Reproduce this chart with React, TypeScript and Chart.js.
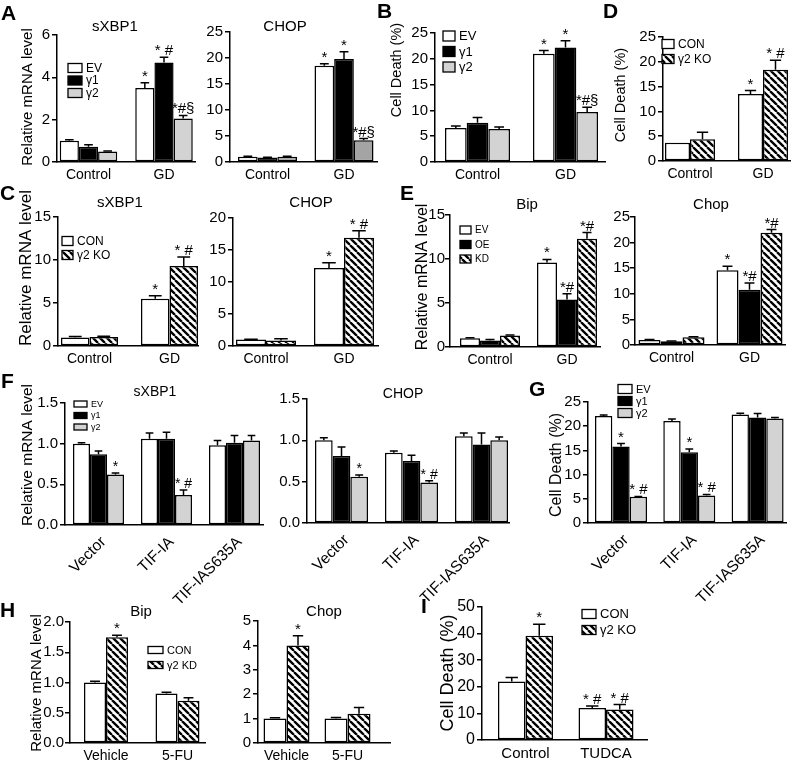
import React, { useEffect, useRef } from "react";
import { Chart, registerables } from "chart.js";
Chart.register(...registerables);

const FONT = "'Liberation Sans', Arial, Helvetica, sans-serif";
const W = 800;
const H = 760;

// ---------- categories ----------
const catsGD = ["Control", "GD"];
const catsTIF = ["Vector", "TIF-IA", "TIF-IAS635A"];
const catsFU = ["Vehicle", "5-FU"];
const catsTUDCA = ["Control", "TUDCA"];

// ---------- A: sXBP1 ----------
const aXbpEV = [1.0, 3.5];
const aXbpEVErr = [0.05, 0.25];
const aXbpG1 = [0.72, 4.7];
const aXbpG1Err = [0.1, 0.25];
const aXbpG2 = [0.5, 2.05];
const aXbpG2Err = [0.02, 0.15];
const aXbpSigEV = ["", "*"];
const aXbpSigG1 = ["", "* #"];
const aXbpSigG2 = ["", "*#§"];
// ---------- A: CHOP ----------
const aChopEV = [1.0, 18.5];
const aChopEVErr = [0.1, 0.4];
const aChopG1 = [0.85, 19.8];
const aChopG1Err = [0.08, 1.4];
const aChopG2 = [1.0, 4.2];
const aChopG2Err = [0.1, 0.3];
const aChopSigEV = ["", "*"];
const aChopSigG1 = ["", "*"];
const aChopSigG2 = ["", "*#§"];
// ---------- B ----------
const bEV = [6.6, 21.0];
const bEVErr = [0.4, 0.6];
const bG1 = [7.6, 22.2];
const bG1Err = [1.0, 1.3];
const bG2 = [6.4, 9.7];
const bG2Err = [0.4, 0.9];
const bSigEV = ["", "*"];
const bSigG1 = ["", "*"];
const bSigG2 = ["", "*#§"];
// ---------- D ----------
const dCON = [3.7, 13.5];
const dCONErr = [0, 0.7];
const dKO = [4.4, 18.4];
const dKOErr = [1.4, 1.9];
const dSigCON = ["", "*"];
const dSigKO = ["", "* #"];
// ---------- C ----------
const cXbpCON = [1.0, 5.5];
const cXbpCONErr = [0.1, 0.35];
const cXbpKO = [1.05, 9.3];
const cXbpKOErr = [0.08, 1.05];
const cChopCON = [1.0, 12.2];
const cChopCONErr = [0.05, 0.8];
const cChopKO = [0.85, 16.9];
const cChopKOErr = [0.3, 1.1];
const cSigCON = ["", "*"];
const cSigKO = ["", "* #"];
// ---------- E ----------
const eBipEV = [1.0, 9.6];
const eBipEVErr = [0.05, 0.35];
const eBipOE = [0.75, 5.4];
const eBipOEErr = [0.1, 0.65];
const eBipKD = [1.3, 12.3];
const eBipKDErr = [0.05, 0.7];
const eChopEV = [1.0, 14.6];
const eChopEVErr = [0.05, 0.8];
const eChopOE = [0.75, 10.8];
const eChopOEErr = [0.05, 1.3];
const eChopKD = [1.5, 21.9];
const eChopKDErr = [0.1, 0.65];
const eSigEV = ["", "*"];
const eSigOE = ["", "*#"];
const eSigKD = ["", "*#"];
// ---------- F ----------
const fXbpEV = [1.0, 1.06, 0.98];
const fXbpEVErr = [0.01, 0.07, 0.06];
const fXbpG1 = [0.87, 1.06, 1.01];
const fXbpG1Err = [0.04, 0.08, 0.09];
const fXbpG2 = [0.62, 0.37, 1.04];
const fXbpG2Err = [0.02, 0.06, 0.06];
const fChopEV = [1.0, 0.85, 1.05];
const fChopEVErr = [0.03, 0.02, 0.04];
const fChopG1 = [0.81, 0.75, 0.95];
const fChopG1Err = [0.11, 0.07, 0.14];
const fChopG2 = [0.56, 0.49, 1.0];
const fChopG2Err = [0.02, 0.02, 0.04];
const fSigG2 = ["*", "* #", ""];
// ---------- G ----------
const gEV = [22.1, 21.1, 22.4];
const gEVErr = [0.2, 0.4, 0.3];
const gG1 = [15.8, 14.6, 21.8];
const gG1Err = [0.6, 0.7, 0.8];
const gG2 = [5.4, 5.7, 21.6];
const gG2Err = [0.1, 0.2, 0.2];
const gSigG1 = ["*", "*", ""];
const gSigG2 = ["* #", "* #", ""];
// ---------- H ----------
const hBipCON = [1.0, 0.82];
const hBipCONErr = [0.02, 0.02];
const hBipKD = [1.75, 0.7];
const hBipKDErr = [0.03, 0.05];
const hChopCON = [1.0, 1.0];
const hChopCONErr = [0.03, 0.05];
const hChopKD = [4.0, 1.2];
const hChopKDErr = [0.4, 0.25];
const hSigKD = ["*", ""];
// ---------- I ----------
const iCON = [22.0, 12.0];
const iCONErr = [1.5, 0.8];
const iKO = [39.2, 11.5];
const iKOErr = [4.3, 1.8];
const iSigCON = ["", "* #"];
const iSigKO = ["*", "* #"];

type Series = { label: string; data: number[]; err: number[]; sig?: string[]; fill: string };
type Spec = {
  left: number; right: number; top: number; bottom: number;
  c0: number; step: number; groupW: number;
  yMax: number; yStep: number; dec: number;
  cats: string[]; series: Series[];
  rotate?: boolean; tickSize: number; xSize: number; sigSize?: number; yPad?: number;
  title?: { text: string; x: number; y: number; size: number };
  ylabel?: { text: string; x: number; y: number; size: number };
  legend?: { x: number; y: number; gap: number; w: number; h: number; size: number };
};

const WHITE = "#ffffff";
const BLACK = "#000000";
const GRAY = "#d3d3d3";
const DARK = "#a4a4a4";
const HATCH = "hatch";

const specs: Spec[] = [
  // A sXBP1
  {
    left: 57, right: 195, top: 35, bottom: 162, c0: 88.5, step: 75.5, groupW: 57.5,
    yMax: 6, yStep: 2, dec: 0, cats: catsGD, tickSize: 15, xSize: 14,
    series: [
      { label: "EV", data: aXbpEV, err: aXbpEVErr, sig: aXbpSigEV, fill: WHITE },
      { label: "γ1", data: aXbpG1, err: aXbpG1Err, sig: aXbpSigG1, fill: BLACK },
      { label: "γ2", data: aXbpG2, err: aXbpG2Err, sig: aXbpSigG2, fill: GRAY },
    ],
    title: { text: "sXBP1", x: 115, y: 27, size: 15 },
    ylabel: { text: "Relative mRNA level", x: 28, y: 97, size: 15 },
    legend: { x: 68, y: 68, gap: 12.5, w: 14, h: 9, size: 12 },
  },
  // A CHOP
  {
    left: 230, right: 377, top: 32, bottom: 162, c0: 267.5, step: 76.5, groupW: 59,
    yMax: 25, yStep: 5, dec: 0, cats: catsGD, tickSize: 15, xSize: 14,
    series: [
      { label: "EV", data: aChopEV, err: aChopEVErr, sig: aChopSigEV, fill: WHITE },
      { label: "γ1", data: aChopG1, err: aChopG1Err, sig: aChopSigG1, fill: BLACK },
      { label: "γ2", data: aChopG2, err: aChopG2Err, sig: aChopSigG2, fill: DARK },
    ],
    title: { text: "CHOP", x: 285, y: 27, size: 15 },
  },
  // B
  {
    left: 435, right: 605, top: 33, bottom: 162, c0: 477.5, step: 88, groupW: 65,
    yMax: 25, yStep: 5, dec: 0, cats: catsGD, tickSize: 15, xSize: 14,
    series: [
      { label: "EV", data: bEV, err: bEVErr, sig: bSigEV, fill: WHITE },
      { label: "γ1", data: bG1, err: bG1Err, sig: bSigG1, fill: BLACK },
      { label: "γ2", data: bG2, err: bG2Err, sig: bSigG2, fill: GRAY },
    ],
    ylabel: { text: "Cell Death (%)", x: 397, y: 70, size: 14.5 },
    legend: { x: 443, y: 36, gap: 15.5, w: 12, h: 10, size: 13 },
  },
  // D
  {
    left: 663, right: 790, top: 37, bottom: 161, c0: 690, step: 73, groupW: 50,
    yMax: 25, yStep: 5, dec: 0, cats: catsGD, tickSize: 15, xSize: 14,
    series: [
      { label: "CON", data: dCON, err: dCONErr, sig: dSigCON, fill: WHITE },
      { label: "γ2 KO", data: dKO, err: dKOErr, sig: dSigKO, fill: HATCH },
    ],
    ylabel: { text: "Cell Death (%)", x: 621, y: 95, size: 14.5 },
    legend: { x: 662, y: 44, gap: 15, w: 12, h: 9, size: 12 },
  },
  // C sXBP1
  {
    left: 58, right: 198, top: 217, bottom: 346, c0: 89.5, step: 80, groupW: 57,
    yMax: 15, yStep: 5, dec: 0, cats: catsGD, tickSize: 15, xSize: 14,
    series: [
      { label: "CON", data: cXbpCON, err: cXbpCONErr, sig: cSigCON, fill: WHITE },
      { label: "γ2 KO", data: cXbpKO, err: cXbpKOErr, sig: cSigKO, fill: HATCH },
    ],
    title: { text: "sXBP1", x: 120, y: 203, size: 15 },
    ylabel: { text: "Relative mRNA level", x: 26, y: 268, size: 17 },
    legend: { x: 62, y: 241, gap: 14, w: 11, h: 9, size: 12 },
  },
  // C CHOP
  {
    left: 233, right: 378, top: 218, bottom: 346, c0: 266, step: 78, groupW: 60,
    yMax: 20, yStep: 5, dec: 0, cats: catsGD, tickSize: 15, xSize: 14,
    series: [
      { label: "CON", data: cChopCON, err: cChopCONErr, sig: cSigCON, fill: WHITE },
      { label: "γ2 KO", data: cChopKO, err: cChopKOErr, sig: cSigKO, fill: HATCH },
    ],
    title: { text: "CHOP", x: 311, y: 203, size: 15 },
  },
  // E Bip
  {
    left: 450, right: 600, top: 215, bottom: 347, c0: 490, step: 77, groupW: 60,
    yMax: 15, yStep: 5, dec: 0, cats: catsGD, tickSize: 15, xSize: 14, yPad: 0,
    series: [
      { label: "EV", data: eBipEV, err: eBipEVErr, sig: eSigEV, fill: WHITE },
      { label: "OE", data: eBipOE, err: eBipOEErr, sig: eSigOE, fill: BLACK },
      { label: "KD", data: eBipKD, err: eBipKDErr, sig: eSigKD, fill: HATCH },
    ],
    title: { text: "Bip", x: 527, y: 205, size: 15 },
    ylabel: { text: "Relative mRNA level", x: 423, y: 277, size: 16 },
    legend: { x: 460, y: 230, gap: 14.5, w: 11, h: 8, size: 10 },
  },
  // E Chop
  {
    left: 635, right: 785, top: 217, bottom: 345, c0: 671.5, step: 78, groupW: 66,
    yMax: 25, yStep: 5, dec: 0, cats: catsGD, tickSize: 15, xSize: 14, yPad: 0,
    series: [
      { label: "EV", data: eChopEV, err: eChopEVErr, sig: eSigEV, fill: WHITE },
      { label: "OE", data: eChopOE, err: eChopOEErr, sig: eSigOE, fill: BLACK },
      { label: "KD", data: eChopKD, err: eChopKDErr, sig: eSigKD, fill: HATCH },
    ],
    title: { text: "Chop", x: 711, y: 205, size: 15 },
  },
  // F sXBP1
  {
    left: 65, right: 263, top: 403, bottom: 525, c0: 98.5, step: 68, groupW: 51,
    yMax: 1.5, yStep: 0.5, dec: 1, cats: catsTIF, tickSize: 15, xSize: 15.5, rotate: true, sigSize: 14,
    series: [
      { label: "EV", data: fXbpEV, err: fXbpEVErr, fill: WHITE },
      { label: "γ1", data: fXbpG1, err: fXbpG1Err, fill: BLACK },
      { label: "γ2", data: fXbpG2, err: fXbpG2Err, sig: fSigG2, fill: GRAY },
    ],
    title: { text: "sXBP1", x: 155, y: 392, size: 14 },
    ylabel: { text: "Relative mRNA level", x: 28, y: 455, size: 15.5 },
    legend: { x: 74, y: 404, gap: 11.5, w: 13, h: 6, size: 9 },
  },
  // F CHOP
  {
    left: 307, right: 509, top: 399, bottom: 523, c0: 341.5, step: 70, groupW: 53,
    yMax: 1.5, yStep: 0.5, dec: 1, cats: catsTIF, tickSize: 15, xSize: 15.5, rotate: true, sigSize: 14,
    series: [
      { label: "EV", data: fChopEV, err: fChopEVErr, fill: WHITE },
      { label: "γ1", data: fChopG1, err: fChopG1Err, fill: BLACK },
      { label: "γ2", data: fChopG2, err: fChopG2Err, sig: fSigG2, fill: GRAY },
    ],
    title: { text: "CHOP", x: 403, y: 394, size: 14 },
  },
  // G
  {
    left: 588, right: 786, top: 402, bottom: 523, c0: 621, step: 68.3, groupW: 52,
    yMax: 25, yStep: 5, dec: 0, cats: catsTIF, tickSize: 15, xSize: 15.5, rotate: true,
    series: [
      { label: "EV", data: gEV, err: gEVErr, fill: WHITE },
      { label: "γ1", data: gG1, err: gG1Err, sig: gSigG1, fill: BLACK },
      { label: "γ2", data: gG2, err: gG2Err, sig: gSigG2, fill: GRAY },
    ],
    ylabel: { text: "Cell Death (%)", x: 557, y: 465, size: 16 },
    legend: { x: 618, y: 389, gap: 12, w: 14, h: 9, size: 11 },
  },
  // H Bip
  {
    left: 70, right: 205, top: 622, bottom: 743, c0: 106, step: 71.5, groupW: 44,
    yMax: 2, yStep: 0.5, dec: 1, cats: catsFU, tickSize: 15, xSize: 14, yPad: 1,
    series: [
      { label: "CON", data: hBipCON, err: hBipCONErr, fill: WHITE },
      { label: "γ2 KD", data: hBipKD, err: hBipKDErr, sig: hSigKD, fill: HATCH },
    ],
    title: { text: "Bip", x: 141, y: 612, size: 15 },
    ylabel: { text: "Relative mRNA level", x: 37, y: 683, size: 15 },
    legend: { x: 148, y: 650, gap: 15, w: 15, h: 7, size: 11 },
  },
  // H Chop
  {
    left: 258, right: 390, top: 621, bottom: 743, c0: 286.5, step: 61, groupW: 46,
    yMax: 5, yStep: 1, dec: 0, cats: catsFU, tickSize: 15, xSize: 14,
    series: [
      { label: "CON", data: hChopCON, err: hChopCONErr, fill: WHITE },
      { label: "γ2 KD", data: hChopKD, err: hChopKDErr, sig: hSigKD, fill: HATCH },
    ],
    title: { text: "Chop", x: 324, y: 612, size: 15 },
  },
  // I
  {
    left: 482, right: 647, top: 607, bottom: 740, c0: 525.5, step: 80.5, groupW: 55,
    yMax: 50, yStep: 10, dec: 0, cats: catsTUDCA, tickSize: 16, xSize: 15,
    series: [
      { label: "CON", data: iCON, err: iCONErr, sig: iSigCON, fill: WHITE },
      { label: "γ2 KO", data: iKO, err: iKOErr, sig: iSigKO, fill: HATCH },
    ],
    ylabel: { text: "Cell Death (%)", x: 448, y: 673, size: 18 },
    legend: { x: 582, y: 614, gap: 16, w: 14, h: 9, size: 13 },
  },
];

const letters = [
  { t: "A", x: 1, y: 2 },
  { t: "B", x: 377, y: 0 },
  { t: "D", x: 603, y: 0 },
  { t: "C", x: 0, y: 182 },
  { t: "E", x: 400, y: 182 },
  { t: "F", x: 1, y: 370 },
  { t: "G", x: 529, y: 378 },
  { t: "H", x: 0, y: 599 },
  { t: "I", x: 421, y: 595 },
];

function makeHatch(): CanvasPattern {
  const s = 7;
  const c = document.createElement("canvas");
  c.width = s;
  c.height = s;
  const g = c.getContext("2d")!;
  g.fillStyle = "#fff";
  g.fillRect(0, 0, s, s);
  g.strokeStyle = "#000";
  g.lineWidth = 2.3;
  g.beginPath();
  for (const k of [-s, 0, s]) {
    g.moveTo(k, 0);
    g.lineTo(k + s, s);
  }
  g.stroke();
  return g.createPattern(c, "repeat")!;
}

function BarPanel({ spec }: { spec: Spec }) {
  const ref = useRef<HTMLCanvasElement>(null);
  useEffect(() => {
    const canvas = ref.current!;
    const pat = makeHatch();
    const fillOf = (f: string): any => (f === HATCH ? pat : f);
    const Y_W = 40;
    const X_H = 80;
    const minX = -(spec.c0 - spec.left) / spec.step;
    const maxX = minX + (spec.right - spec.left) / spec.step;
    const rot = spec.rotate ? 45 : 0;

    const decor = {
      id: "decor",
      afterDraw(chart: any) {
        const ctx: CanvasRenderingContext2D = chart.ctx;
        const yS = chart.scales.y;
        ctx.save();
        ctx.strokeStyle = "#000";
        ctx.fillStyle = "#000";
        ctx.lineWidth = 1.5;
        spec.series.forEach((s, di) => {
          const meta = chart.getDatasetMeta(di);
          meta.data.forEach((bar: any, j: number) => {
            const e = s.err[j] || 0;
            const yE = yS.getPixelForValue(s.data[j] + e);
            const yB = bar.y;
            const capW = bar.width * 0.45;
            if (e > 0) {
              ctx.beginPath();
              ctx.moveTo(bar.x, yB);
              ctx.lineTo(bar.x, yE);
              ctx.moveTo(bar.x - capW / 2, yE);
              ctx.lineTo(bar.x + capW / 2, yE);
              ctx.stroke();
            }
            const sig = s.sig ? s.sig[j] : "";
            if (sig) {
              ctx.font = `${spec.sigSize || 15}px ${FONT}`;
              ctx.textAlign = "center";
              ctx.textBaseline = "alphabetic";
              ctx.fillText(sig, bar.x, Math.min(yE, yB) - 2);
            }
          });
        });
        if (spec.title) {
          const t = spec.title;
          ctx.font = `${t.size}px ${FONT}`;
          ctx.textAlign = "center";
          ctx.textBaseline = "middle";
          ctx.fillText(t.text, t.x, t.y);
        }
        if (spec.ylabel) {
          const l = spec.ylabel;
          ctx.save();
          ctx.translate(l.x, l.y);
          ctx.rotate(-Math.PI / 2);
          ctx.font = `${l.size}px ${FONT}`;
          ctx.textAlign = "center";
          ctx.textBaseline = "middle";
          ctx.fillText(l.text, 0, 0);
          ctx.restore();
        }
        if (spec.legend) {
          const lg = spec.legend;
          spec.series.forEach((s, i) => {
            const cy = lg.y + i * lg.gap;
            ctx.fillStyle = fillOf(s.fill);
            ctx.fillRect(lg.x, cy - lg.h / 2, lg.w, lg.h);
            ctx.lineWidth = 1.3;
            ctx.strokeStyle = "#000";
            ctx.strokeRect(lg.x, cy - lg.h / 2, lg.w, lg.h);
            ctx.fillStyle = "#000";
            ctx.font = `${lg.size}px ${FONT}`;
            ctx.textAlign = "left";
            ctx.textBaseline = "middle";
            ctx.fillText(s.label, lg.x + lg.w + 4, cy + 0.5);
          });
        }
        ctx.restore();
      },
    };

    const chart = new Chart(canvas, {
      type: "bar",
      data: {
        datasets: spec.series.map((s) => ({
          label: s.label,
          data: s.data.map((v, i) => ({ x: i, y: v })),
          backgroundColor: fillOf(s.fill),
          borderColor: "#000",
          borderWidth: 1.5,
          borderSkipped: false,
          categoryPercentage: spec.groupW / spec.step,
          barPercentage: 1,
        })) as any,
      },
      options: {
        responsive: false,
        animation: false,
        devicePixelRatio: 1,
        layout: {
          padding: {
            left: spec.left - Y_W,
            top: spec.top,
            right: W - spec.right,
            bottom: H - spec.bottom - X_H,
          },
        },
        plugins: {
          legend: { display: false },
          tooltip: { enabled: false },
          title: { display: false },
        },
        scales: {
          x: {
            type: "linear",
            min: minX,
            max: maxX,
            offset: false,
            afterBuildTicks: (a: any) => {
              a.ticks = spec.cats.map((_, i) => ({ value: i }));
            },
            afterFit: (a: any) => {
              a.height = X_H;
            },
            grid: { display: false, offset: false },
            border: { display: true, color: "#000", width: 1.5 },
            ticks: {
              autoSkip: false,
              color: "#000",
              font: { family: FONT, size: spec.xSize },
              padding: spec.rotate ? 0 : -3,
              labelOffset: spec.rotate ? 5 : 0,
              maxRotation: rot,
              minRotation: rot,
              callback: (v: any) => spec.cats[Math.round(Number(v))] ?? "",
            },
          },
          y: {
            min: 0,
            max: spec.yMax,
            afterFit: (a: any) => {
              a.width = Y_W;
            },
            grid: {
              display: true,
              drawOnChartArea: false,
              drawTicks: true,
              tickLength: 5,
              color: "#000",
              lineWidth: 1.5,
            },
            border: { display: true, color: "#000", width: 1.5 },
            ticks: {
              stepSize: spec.yStep,
              color: "#000",
              font: { family: FONT, size: spec.tickSize },
              padding: spec.yPad ?? 2,
              callback: (v: any) => Number(v).toFixed(spec.dec),
            },
          },
        },
      } as any,
      plugins: [decor as any],
    });
    return () => chart.destroy();
  }, [spec]);
  return (
    <canvas
      ref={ref}
      width={W}
      height={H}
      style={{ position: "absolute", left: 0, top: 0, width: W, height: H }}
    />
  );
}

export default function App() {
  return (
    <div style={{ position: "absolute", left: 0, top: 0, width: W, height: H, background: "#fff", overflow: "hidden" }}>
      {specs.map((s, i) => (
        <BarPanel key={i} spec={s} />
      ))}
      {letters.map((l) => (
        <div
          key={l.t}
          style={{
            position: "absolute",
            left: l.x,
            top: l.y,
            font: `bold 21px ${FONT}`,
            lineHeight: 1,
            color: "#000",
          }}
        >
          {l.t}
        </div>
      ))}
    </div>
  );
}
